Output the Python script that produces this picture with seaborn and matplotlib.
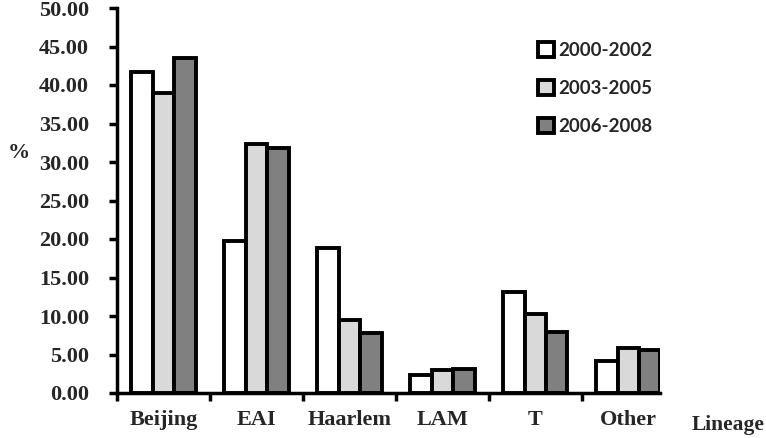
import numpy as np
import pandas as pd
import matplotlib.pyplot as plt
import seaborn as sns

# data
lineages = ['Beijing', 'EAI', 'Haarlem', 'LAM', 'T', 'Other']
periods = ['2000-2002', '2003-2005', '2006-2008']
p2000 = [41.7, 19.7, 18.8, 2.3, 13.1, 4.1]
p2003 = [39.0, 32.3, 9.5, 3.0, 10.2, 5.8]
p2006 = [43.5, 31.8, 7.8, 3.1, 7.9, 5.6]
bar_colors = ['#ffffff', '#d9d9d9', '#808080']

df = pd.DataFrame({'Lineage': lineages * 3,
                   'Period': np.repeat(periods, len(lineages)),
                   'pct': p2000 + p2003 + p2006})

sns.set_style('white')
plt.rcParams['font.family'] = ['Liberation Serif', 'DejaVu Serif']

fig = plt.figure(figsize=(7.66, 4.38), dpi=100)
ax = fig.add_axes([117 / 766, 1 - 393 / 438, (660 - 117) / 766, (393 - 8) / 438])

sns.barplot(data=df, x='Lineage', y='pct', hue='Period', order=lineages,
            hue_order=periods, palette=bar_colors, width=0.69,
            edgecolor='black', linewidth=2.8, saturation=1, ax=ax)

ax.set_ylim(0, 50)
ax.set_xlim(-0.5, 5.34)
ax.set_yticks(np.arange(0, 50.1, 5))
ax.set_yticklabels(['%.2f' % v for v in np.arange(0, 50.1, 5)],
                   fontsize=16, fontweight='bold')

# ticks at category boundaries, labels at centres
ax.set_xticks(np.arange(-0.5, 5.0, 1))
ax.set_xticklabels([])
ax.set_xticks(np.arange(len(lineages)), minor=True)
ax.set_xticklabels(lineages, minor=True, fontsize=16, fontweight='bold')
ax.tick_params(axis='x', which='major', direction='out', length=6, width=2.5,
               color='black', bottom=True)
ax.tick_params(axis='x', which='minor', length=0, pad=12)
ax.tick_params(axis='y', direction='out', length=6, width=2.5, color='black',
               left=True, pad=14)

for s in ['top', 'right']:
    ax.spines[s].set_visible(False)
for s in ['left', 'bottom']:
    ax.spines[s].set_linewidth(2.5)
    ax.spines[s].set_color('black')

ax.set_xlabel('')
ax.set_ylabel('')
fig.text(8 / 766, 1 - 153 / 438, '%', fontsize=16, fontweight='bold',
         va='center', ha='left')
fig.text(692 / 766, 1 - 425 / 438, 'Lineage', fontsize=15.5, fontweight='bold',
         va='center', ha='left')

handles, labels = ax.get_legend_handles_labels()
ax.legend(handles, labels, loc='upper left',
          bbox_to_anchor=(521 / 766, 1 - 25 / 438), bbox_transform=fig.transFigure,
          frameon=False, handlelength=0.85, handleheight=0.85, handletextpad=0.25,
          labelspacing=1.12, prop={'family': 'Lato', 'weight': 'bold', 'size': 13.5})

fig.savefig('out.png', dpi=100)
